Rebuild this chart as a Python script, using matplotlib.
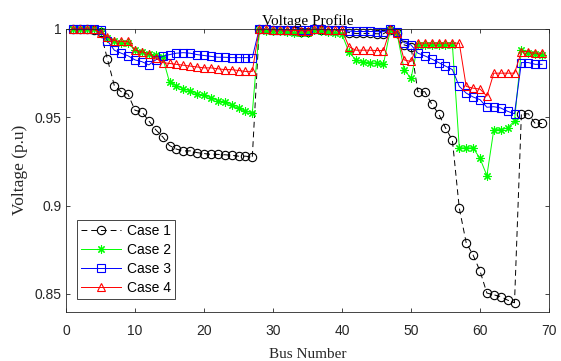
import numpy as np
import matplotlib
matplotlib.use('Agg')
import matplotlib.pyplot as plt

# Bus numbers of the 69-bus feeder
bus = list(range(1, 70))

# Voltage magnitudes (p.u)
case1 = [1.0, 1.0, 0.9999, 0.9997, 0.9985, 0.983, 0.968, 0.9645, 0.963, 0.954,
         0.953, 0.948, 0.943, 0.939, 0.934, 0.932, 0.931, 0.931, 0.930, 0.9295,
         0.929, 0.929, 0.9288, 0.9285, 0.928, 0.928, 0.9275, 0.9999, 0.9998, 0.9995,
         0.9995, 0.9993, 0.9989, 0.9983, 0.9982, 0.9999, 0.9996, 0.9993, 0.9992, 0.9992,
         0.998, 0.9975, 0.9975, 0.9975, 0.9973, 0.9973, 0.9996, 0.9975, 0.991, 0.990,
         0.9645, 0.9645, 0.9575, 0.952, 0.944, 0.937, 0.8985, 0.879, 0.872, 0.863,
         0.8505, 0.8495, 0.8485, 0.8465, 0.845, 0.952, 0.952, 0.9465, 0.9465]

case2 = [1.0, 1.0, 1.0, 0.9998, 0.999, 0.995, 0.993, 0.992, 0.992, 0.988,
         0.987, 0.986, 0.985, 0.984, 0.970, 0.968, 0.966, 0.965, 0.963, 0.9625,
         0.961, 0.9595, 0.9587, 0.957, 0.955, 0.9535, 0.9525, 0.9995, 0.999, 0.999,
         0.9988, 0.9985, 0.998, 0.9975, 0.9975, 0.9995, 0.999, 0.9985, 0.998, 0.997,
         0.987, 0.9825, 0.9815, 0.981, 0.9805, 0.980, 0.9995, 0.997, 0.977, 0.972,
         0.991, 0.991, 0.991, 0.991, 0.991, 0.991, 0.9327, 0.9327, 0.9327, 0.9267,
         0.917, 0.943, 0.943, 0.944, 0.948, 0.988, 0.9865, 0.986, 0.9855]

case3 = [1.0, 1.0, 1.0, 0.9998, 0.9992, 0.9934, 0.988, 0.9863, 0.9848, 0.9825,
         0.9815, 0.9797, 0.9825, 0.9845, 0.9855, 0.9863, 0.9866, 0.9863, 0.9855, 0.985,
         0.9845, 0.984, 0.984, 0.9838, 0.9838, 0.9838, 0.9838, 1.0, 0.9998, 0.9997,
         0.9996, 0.9995, 0.9993, 0.9992, 0.9992, 0.9999, 0.9998, 0.9997, 0.9996, 0.9996,
         0.9988, 0.9986, 0.9986, 0.9986, 0.9985, 0.9985, 0.9998, 0.9985, 0.9923, 0.991,
         0.9863, 0.9848, 0.983, 0.981, 0.979, 0.977, 0.9675, 0.9637, 0.9615, 0.960,
         0.9557, 0.956, 0.9553, 0.9534, 0.952, 0.981, 0.981, 0.980, 0.980]

case4 = [1.0, 1.0, 1.0, 0.9998, 0.998, 0.9957, 0.9934, 0.993, 0.993, 0.988,
         0.987, 0.986, 0.9835, 0.981, 0.9805, 0.980, 0.9795, 0.979, 0.9785, 0.978,
         0.978, 0.9775, 0.977, 0.977, 0.9765, 0.976, 0.976, 0.9999, 0.9998, 0.9996,
         0.9995, 0.9994, 0.9992, 0.999, 0.999, 0.9999, 0.9998, 0.9996, 0.9995, 0.9995,
         0.990, 0.988, 0.988, 0.988, 0.9878, 0.9878, 1.0, 0.9976, 0.9825, 0.9816,
         0.992, 0.992, 0.992, 0.992, 0.992, 0.992, 0.992, 0.9675, 0.9665, 0.966,
         0.962, 0.975, 0.975, 0.975, 0.975, 0.9872, 0.9872, 0.9863, 0.9863]

x_ticks = [0, 10, 20, 30, 40, 50, 60, 70]
y_ticks = [0.85, 0.9, 0.95, 1.0]
y_tick_labels = ['0.85', '0.9', '0.95', '1']

axis_color = '#262626'
sans = 'Liberation Sans'
serif = 'Liberation Serif'

fig = plt.figure(figsize=(5.61, 3.61), dpi=100)
ax = fig.add_axes([66 / 561, 1 - 311.6 / 361, (549 - 66) / 561, (311.6 - 29) / 361])

# MATLAB-style open markers, thin lines
common = dict(linewidth=0.7, markersize=6, markerfacecolor='none',
              markeredgewidth=0.8, clip_on=False)
ax.plot(bus, case1, color='k', linestyle=(0, (6, 4)), marker='o', label='Case 1', **common)
ax.plot(bus, case2, color='#00ff00', marker=(8, 2, 0), label='Case 2', **common)
ax.plot(bus, case3, color='#0000ff', marker='s', label='Case 3', **common)
ax.plot(bus, case4, color='#ff0000', marker='^', label='Case 4', **common)

ax.set_xlim(0, 70)
ax.set_ylim(0.84, 1.0)
ax.set_xticks(x_ticks)
ax.set_yticks(y_ticks)
ax.set_yticklabels(y_tick_labels)

# box on, ticks pointing inwards on all four sides
for spine in ax.spines.values():
    spine.set_color(axis_color)
    spine.set_linewidth(0.6)
ax.tick_params(direction='in', length=3, width=0.6, color=axis_color,
               labelcolor=axis_color, labelsize=10, top=True, right=True)
ax.tick_params(axis='x', pad=9)
ax.tick_params(axis='y', pad=3)
for lbl in ax.get_xticklabels() + ax.get_yticklabels():
    lbl.set_family(sans)

ax.set_title('Voltage Profile', fontfamily=serif, fontsize=11, pad=3, color='k')
ax.set_xlabel('Bus Number', fontfamily=serif, fontsize=11, labelpad=7, color=axis_color)
ax.set_ylabel('Voltage (p.u)', fontfamily=serif, fontsize=12.5, labelpad=5, color=axis_color)

leg = ax.legend(loc='lower left', bbox_to_anchor=(0.022, 0.045), prop={'family': sans, 'size': 10},
                fancybox=False, edgecolor=axis_color, framealpha=1, handlelength=2.9,
                handletextpad=0.4, borderpad=0.3, labelspacing=0.35, borderaxespad=0)
leg.get_frame().set_linewidth(0.6)

plt.savefig('out.png', dpi=100)
